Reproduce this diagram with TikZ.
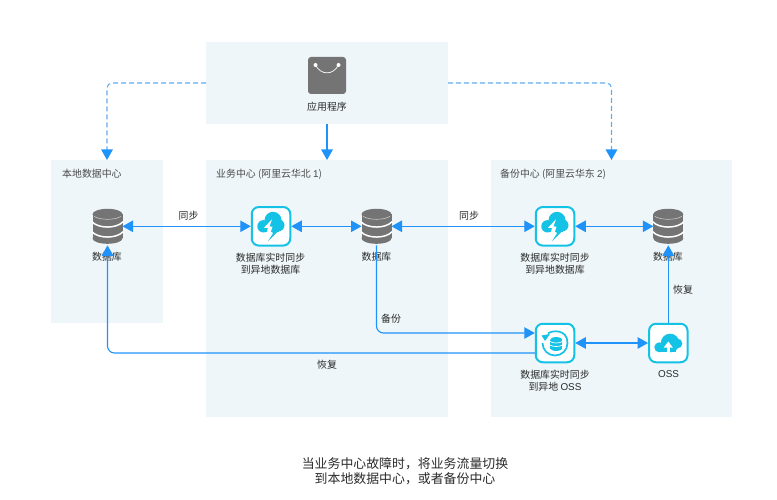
\documentclass[tikz,border=0pt]{standalone}
\usepackage{fontspec}
\setmainfont{Noto Sans CJK SC}
\newfontfamily\latf{Liberation Sans}
\usetikzlibrary{arrows.meta}
\definecolor{panel}{HTML}{EEF6F9}
\definecolor{flow}{HTML}{1F93FA}
\definecolor{dashc}{HTML}{62ADF3}
\definecolor{tile}{HTML}{14C2E6}
\definecolor{glyph}{HTML}{747474}
\definecolor{ink}{HTML}{2A2A2A}
\tikzset{
 x=1pt,y=-1pt,
 panelbox/.style={fill=panel,draw=none,minimum width=#1,inner sep=0,outer sep=0},
 paneltitle/.style={anchor=west,font=\fontsize{9.9}{11}\selectfont,text=ink!85,inner sep=0},
 lab/.style={font=\fontsize{9.9}{11}\selectfont,text=ink,align=center,inner sep=0},
 lab2/.style={lab,font=\fontsize{9.9}{11.6}\selectfont},
 caption/.style={font=\fontsize{12.9}{15.2}\selectfont,text=ink,align=center,inner sep=0},
 tilebox/.style={draw=tile,line width=2pt,fill=white,rounded corners=7pt,minimum width=38.5pt,minimum height=38.5pt,inner sep=0,outer sep=1pt},
 dbbox/.style={minimum width=30pt,minimum height=38pt,inner sep=0,outer sep=0},
 link/.style={draw=flow,line width=1.1pt,{Triangle[length=10.5pt,width=11.5pt]}-{Triangle[length=10.5pt,width=11.5pt]}},
 oneway/.style={draw=flow,line width=1.1pt,-{Triangle[length=10.5pt,width=11.5pt]},rounded corners=7pt},
 dashlink/.style={draw=dashc,line width=1.1pt,dash pattern=on 5pt off 3pt,-{Triangle[length=10.5pt,width=11.5pt,color=flow,fill=flow]},rounded corners=5pt},
 dbglyph/.pic={
  \fill[glyph] (-15,-12) rectangle (15,12);
  \fill[glyph] (0,-12) ellipse (15 and 5.5);
  \fill[glyph] (0,12) ellipse (15 and 5.5);
  \draw[white,line width=1.5pt] (-15.5,-4.5) .. controls (-9,2.5) and (9,2.5) .. (15.5,-4.5);
  \draw[white,line width=1.5pt] (-15.5,5.5) .. controls (-9,12.5) and (9,12.5) .. (15.5,5.5);
  \draw[white!70!glyph,line width=0.5pt] (-13.5,-10) .. controls (-8,-6) and (8,-6) .. (13.5,-10);
 },
 syncglyph/.pic={
  \fill[tile] (-7.5,0) circle (6.2);
  \fill[tile] (2,-6) circle (8.5);
  \fill[tile] (7.5,-1) circle (6);
  \fill[tile] (-7.5,-2) rectangle (8,5.2);
  \fill[white] (1,-7) -- (-7,1.5) -- (-3,1.5) -- (-4.5,8) -- (-1,8) -- (1.5,0.5) -- (-1.5,0) -- cycle;
  \fill[tile] (5,1) -- (1,5.5) -- (2,7) -- (-3,15) -- (7,5) -- (4,4.5) -- cycle;
 },
 ossglyph/.pic={
  \fill[tile] (-9,4.3) circle (5);
  \fill[tile] (1.8,0) circle (9.3);
  \fill[tile] (9,0.5) circle (5);
  \fill[tile] (-9,3) rectangle (8,9.3);
  \fill[white] (-1.3,9.5) -- (-1.3,4.5) -- (-4.5,4.5) -- (0,-1.5) -- (4.5,4.5) -- (1.5,4.5) -- (1.5,9.5) -- cycle;
 },
 backupglyph/.pic={
  \draw[tile,line width=1.7pt] (-7,-9.5) .. controls (-3,-13) and (12.5,-14) .. (12.5,0) .. controls (12.5,7) and (7,12.5) .. (0,12.5) .. controls (-7,12.5) and (-12.5,7) .. (-12.5,0);
  \fill[tile] (-13.5,-7.5) -- (-5,-9) -- (-10,-2) -- cycle;
  \fill[tile] (1.2,-3.5) ellipse (5.8 and 2.4);
  \fill[tile] (-4.6,-3.5) rectangle (7,5.5);
  \fill[tile] (1.2,5.5) ellipse (5.8 and 2.4);
  \draw[white,line width=0.7pt] (-5,-1.5) .. controls (-2,0.5) and (4,0.5) .. (7.4,-1.5);
  \draw[white,line width=0.7pt] (-5,2) .. controls (-2,4) and (4,4) .. (7.4,2);
 },
}
\begin{document}
\begin{tikzpicture}
\useasboundingbox (0,0) rectangle (777,500);
% panels
\node[panelbox=242pt,minimum height=82pt] (appPanel) at (327,83) {};
\node[panelbox=112pt,minimum height=163pt] (localPanel) at (107,241.5) {};
\node[panelbox=242pt,minimum height=257pt] (mainPanel) at (327,288.5) {};
\node[panelbox=241pt,minimum height=257pt] (backupPanel) at (611.5,288.5) {};
% panel titles
\node[paneltitle] (tLocal) at (62,174) {本地数据中心};
\node[paneltitle] (tMain) at (216,174) {业务中心 ({\latf }阿里云华北 {\latf 1})};
\node[paneltitle] (tBackup) at (500,174) {备份中心 ({\latf }阿里云华东 {\latf 2})};
% app
\node[minimum width=38pt,minimum height=37pt,inner sep=0,fill=glyph,rounded corners=3pt] (app) at (327,75.5) {};
\draw[white,line width=0.7pt] (315.5,65) .. controls (321,75.5) and (333,75.5) .. (338.5,65);
\fill[white] (315.5,65) circle (2) (338.5,65) circle (2);
\node[lab] (appLab) at (327,106.5) {应用程序};
% node labels (under connectors)
\node[lab] (dbLLab) at (107,257) {数据库};
\node[lab] (dbMLab) at (376.5,257) {数据库};
\node[lab] (dbRLab) at (668,257) {数据库};
\node[lab2] (syncALab) at (270.5,264) {数据库实时同步\\到异地数据库};
\node[lab2] (syncBLab) at (555,264) {数据库实时同步\\到异地数据库};
\node[lab2] (bakLab) at (555,381) {数据库实时同步\\到异地 {\latf OSS}};
\node[lab] (ossLab) at (668.5,374.5) {\latf OSS};
% icons
\node[dbbox] (dbL) at (107.5,226.3) {};
\node[dbbox] (dbM) at (376.5,226.3) {};
\node[dbbox] (dbR) at (668.3,226.3) {};
\node[tilebox] (syncA) at (271,226.3) {};
\node[tilebox] (syncB) at (555,226.3) {};
\node[tilebox] (bak) at (555,343) {};
\node[tilebox] (oss) at (668.3,343) {};
\pic at (dbL) {dbglyph};
\pic at (dbM) {dbglyph};
\pic at (dbR) {dbglyph};
\pic at (syncA) {syncglyph};
\pic at (syncB) {syncglyph};
\pic at (bak) {backupglyph};
\pic at (oss) {ossglyph};
% connectors
\draw[oneway] (appPanel.south) -- (mainPanel.north);
\draw[dashlink] (appPanel.west) -- (107,83) -- (localPanel.north);
\draw[dashlink] (appPanel.east) -- (611.5,83) -- (backupPanel.north);
\draw[link] (dbL.east) -- (syncA.west);
\draw[link] (syncA.east) -- (dbM.west);
\draw[link] (dbM.east) -- (syncB.west);
\draw[link] (syncB.east) -- (dbR.west);
\draw[link] (bak.east) -- (oss.west);
\draw[oneway] (dbM.south) |- (bak.west |- 0,333);
\draw[oneway] (bak.west |- 0,353) -| (dbL.south);
\draw[oneway] (oss.north) -- (dbR.south);
% connector labels
\node[lab] (l1) at (188.5,216) {同步};
\node[lab] (l2) at (469,216) {同步};
\node[lab] (l3) at (391,319) {备份};
\node[lab] (l4) at (327,365) {恢复};
\node[lab] (l5) at (683,290) {恢复};
% caption
\node[caption] (cap) at (405,471) {当业务中心故障时，将业务流量切换\\到本地数据中心，或者备份中心};
\end{tikzpicture}
\end{document}
